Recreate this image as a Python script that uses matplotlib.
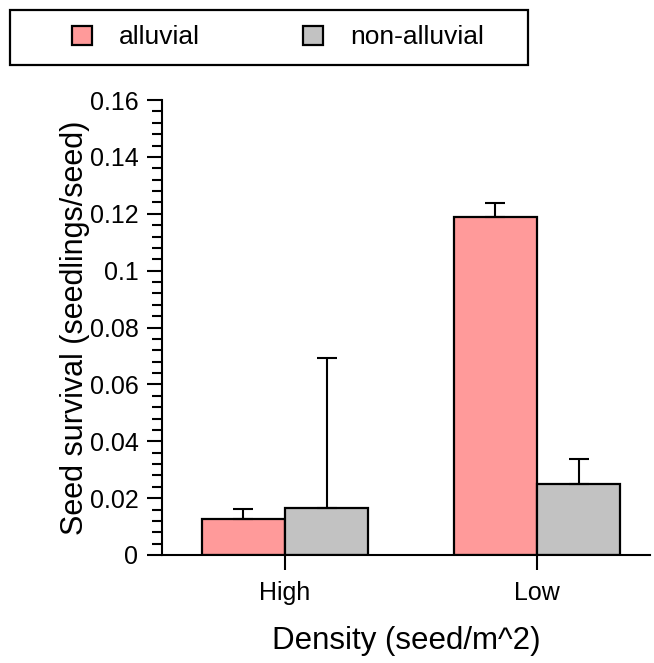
import numpy as np
import matplotlib
matplotlib.use("Agg")
import matplotlib.pyplot as plt
from matplotlib.patches import Rectangle
from matplotlib.ticker import MultipleLocator

plt.rcParams["font.family"] = ["Liberation Sans", "DejaVu Sans"]

# data
densities = ["High", "Low"]
alluvial = [0.0126, 0.1187]
alluvial_err = [0.0035, 0.0052]
non_alluvial = [0.0164, 0.0249]
non_alluvial_err = [0.0530, 0.0089]
ytick_labels = ["0", "0.02", "0.04", "0.06", "0.08", "0.1", "0.12", "0.14", "0.16"]

W, H = 654, 663
fig = plt.figure(figsize=(W / 100, H / 100), dpi=100)
ax = fig.add_axes([162 / W, 1 - 555 / H, (650 - 162) / W, 455 / H])

x = np.arange(len(densities))
bw = 0.33
err_kw = dict(capsize=7, capthick=1.5, elinewidth=1.5, ecolor="black")
b1 = ax.bar(x - bw / 2, alluvial, bw, color="#ff9a9a", edgecolor="black", lw=1.6,
            yerr=[np.zeros(2), alluvial_err], error_kw=err_kw, label="alluvial")
b2 = ax.bar(x + bw / 2, non_alluvial, bw, color="#c2c2c2", edgecolor="black", lw=1.6,
            yerr=[np.zeros(2), non_alluvial_err], error_kw=err_kw, label="non-alluvial")

ax.set_xlim(-0.488, 1.448)
ax.set_ylim(0, 0.16)
ax.set_xticks(x)
ax.set_xticklabels(densities, fontsize=18)
ax.set_yticks(np.arange(0, 0.161, 0.02))
ax.set_yticklabels(ytick_labels, fontsize=18)
ax.yaxis.set_minor_locator(MultipleLocator(0.004))
ax.tick_params(axis="y", which="major", length=11, width=1.5, direction="out", pad=6)
ax.tick_params(axis="y", which="minor", length=7, width=1.5, direction="out")
ax.tick_params(axis="x", which="major", length=10.5, width=1.5, direction="out", pad=8)
for s in ["top", "right"]:
    ax.spines[s].set_visible(False)
for s in ["left", "bottom"]:
    ax.spines[s].set_linewidth(1.5)

ax.set_ylabel("Seed survival (seedlings/seed)", fontsize=22, labelpad=0)
ax.set_xlabel("Density (seed/m^2)", fontsize=22.5, labelpad=15)

# legend: frameless entries plus a plain box like the reference
fig.patches.append(Rectangle((10 / W, 1 - 65 / H), 518 / W, 55 / H,
                             transform=fig.transFigure, fill=False,
                             edgecolor="black", lw=1.6))
fig.legend(handles=[b1, b2], loc="center left",
           bbox_to_anchor=(72 / W, 1 - 37.5 / H), ncol=2, fontsize=19,
           frameon=False, handlelength=0.76, handleheight=0.76,
           handletextpad=1.02, columnspacing=3.9, borderpad=0, borderaxespad=0)

fig.savefig("out.png", dpi=100)
